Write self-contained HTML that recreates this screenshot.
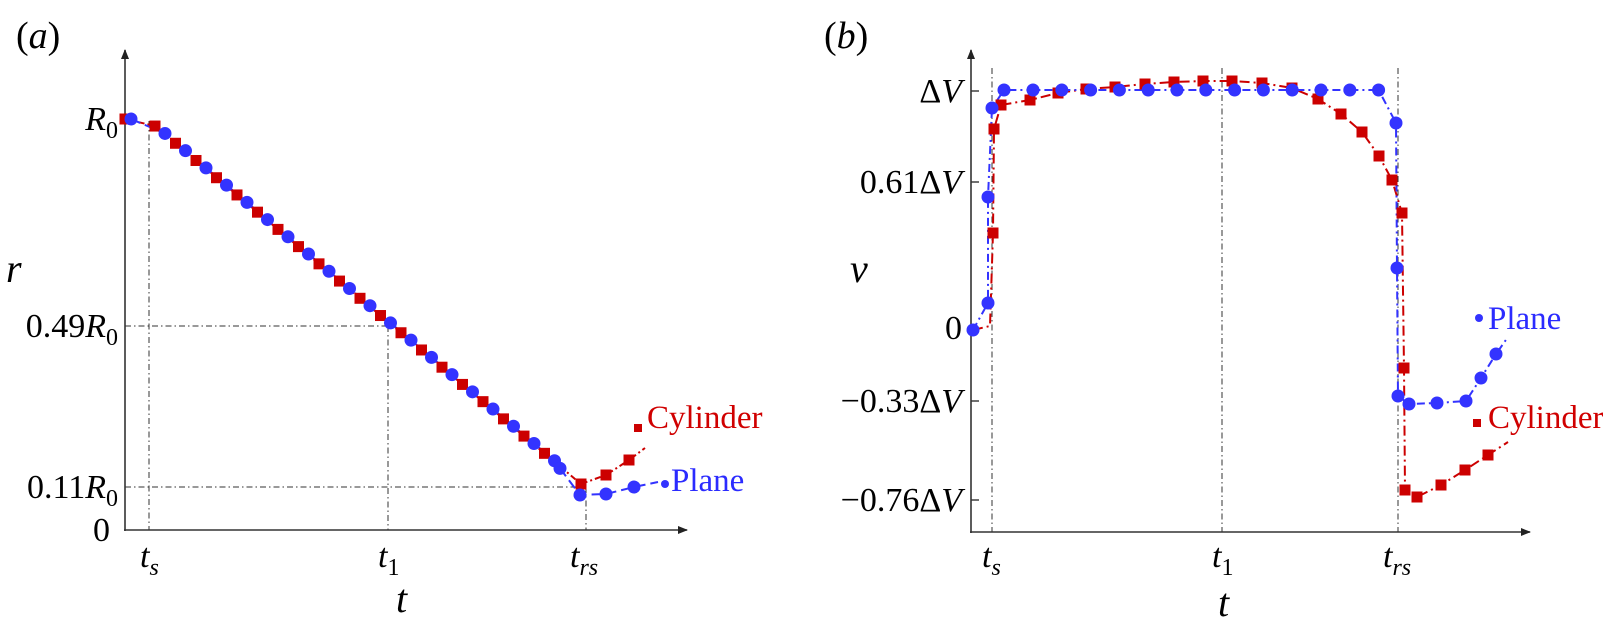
<!DOCTYPE html>
<html><head><meta charset="utf-8"><style>
html,body{margin:0;padding:0;background:#fff;}
svg{display:block;font-family:"Liberation Serif",serif;}
</style></head><body>
<svg id="s" width="1603" height="632" viewBox="0 0 1603 632" xmlns="http://www.w3.org/2000/svg">
<defs>
<marker id="ar" markerWidth="10" markerHeight="8" refX="9" refY="4" orient="auto" markerUnits="userSpaceOnUse"><path d="M0,0 L10,4 L0,8 Z" fill="#222"/></marker>
</defs>
<g font-size="38">
<text x="16" y="48">(<tspan font-style="italic">a</tspan>)</text>
<text x="824" y="48">(<tspan font-style="italic">b</tspan>)</text>
</g>
<g stroke="#333" stroke-width="1.6" fill="none">
<line x1="125" y1="531" x2="125" y2="50" marker-end="url(#ar)"/>
<line x1="124" y1="530" x2="687" y2="530" marker-end="url(#ar)"/>
<line x1="971" y1="533" x2="971" y2="50" marker-end="url(#ar)"/>
<line x1="970" y1="532" x2="1530" y2="532" marker-end="url(#ar)"/>
</g>
<g stroke="#333" stroke-width="1" stroke-dasharray="6,3,1.5,3" fill="none">
<line x1="149" y1="121" x2="149" y2="530"/>
<line x1="388" y1="326" x2="388" y2="530"/>
<line x1="125" y1="326" x2="388" y2="326"/>
<line x1="125" y1="487" x2="586" y2="487"/>
<line x1="586" y1="487" x2="586" y2="530"/>
<line x1="992" y1="68" x2="992" y2="532"/>
<line x1="1222" y1="68" x2="1222" y2="532"/>
<line x1="1398" y1="68" x2="1398" y2="532"/>
</g>
<g stroke="#333" stroke-width="1.4">
<line x1="125" y1="119" x2="133" y2="119"/>
<line x1="971" y1="91" x2="979" y2="91"/>
<line x1="971" y1="182" x2="979" y2="182"/>
<line x1="971" y1="328" x2="979" y2="328"/>
<line x1="971" y1="401" x2="979" y2="401"/>
<line x1="971" y1="500" x2="979" y2="500"/>
</g>
<g font-size="34" text-anchor="end">
<text x="118" y="130" font-style="italic">R<tspan font-size="24" dy="8" font-style="normal">0</tspan></text>
<text x="118" y="337">0.49<tspan font-style="italic">R</tspan><tspan font-size="24" dy="8">0</tspan></text>
<text x="118" y="498">0.11<tspan font-style="italic">R</tspan><tspan font-size="24" dy="8">0</tspan></text>
<text x="110" y="541">0</text>
<text x="962" y="102">Δ<tspan font-style="italic">V</tspan></text>
<text x="962" y="193">0.61Δ<tspan font-style="italic">V</tspan></text>
<text x="962" y="339">0</text>
<text x="962" y="412">−0.33Δ<tspan font-style="italic">V</tspan></text>
<text x="962" y="511">−0.76Δ<tspan font-style="italic">V</tspan></text>
</g>
<g font-size="34" font-style="italic">
<text x="140" y="567">t<tspan font-size="24" dy="8">s</tspan></text>
<text x="378" y="567">t<tspan font-size="24" dy="8" font-style="normal">1</tspan></text>
<text x="570" y="567">t<tspan font-size="24" dy="8">rs</tspan></text>
<text x="982" y="567">t<tspan font-size="24" dy="8">s</tspan></text>
<text x="1212" y="567">t<tspan font-size="24" dy="8" font-style="normal">1</tspan></text>
<text x="1383" y="567">t<tspan font-size="24" dy="8">rs</tspan></text>
<text x="396" y="612" font-size="40">t</text>
<text x="1218" y="616" font-size="40">t</text>
<text x="6" y="282" font-size="40">r</text>
<text x="850" y="282" font-size="40">v</text>
</g>
<g font-size="33">
<text x="647" y="428" fill="#d00000">Cylinder</text>
<text x="671" y="491" fill="#2b2bff">Plane</text>
<text x="1488" y="329" fill="#2b2bff">Plane</text>
<text x="1488" y="428" fill="#d00000">Cylinder</text>
</g>
<g id="data"></g>
</svg>
<script>
var NS="http://www.w3.org/2000/svg",g=document.getElementById("data");
var R="#cc0000",B="#3333ff";
function line(pts,c,dash){var p=document.createElementNS(NS,"polyline");p.setAttribute("points",pts.map(function(a){return a.join(",")}).join(" "));p.setAttribute("fill","none");p.setAttribute("stroke",c);p.setAttribute("stroke-width","2");p.setAttribute("stroke-dasharray",dash);g.appendChild(p);}
function sq(pts,s){pts.forEach(function(a){var r=document.createElementNS(NS,"rect");r.setAttribute("x",a[0]-s/2);r.setAttribute("y",a[1]-s/2);r.setAttribute("width",s);r.setAttribute("height",s);r.setAttribute("fill",R);g.appendChild(r);});}
function ci(pts,rr){pts.forEach(function(a){var c=document.createElementNS(NS,"circle");c.setAttribute("cx",a[0]);c.setAttribute("cy",a[1]);c.setAttribute("r",rr);c.setAttribute("fill",B);g.appendChild(c);});}
var ar=[[125,119]],ab=[[131,119]];
function ya(x){return 121+(x-149)*(484-121)/(581-149);}
for(var x=155;x<565;x+=20.5){ar.push([x,ya(x)]);}
for(var x=165;x<565;x+=20.5){ab.push([x,ya(x)-1]);}
ar.push([581,484],[606,475],[629,460]);
ab.push([560,ya(560)+2],[580,495],[606,494],[634,487]);
line(ar.concat([[645,448]]),R,"6,3,2,3");line(ab.concat([[658,482]]),B,"10,5");
sq(ar,11);ci(ab,6.5);
sq([[638,428]],8);ci([[665,484]],4);
var br=[[993,233],[994,129],[1001,105],[1030,100],[1058,93],[1086,89],[1115,87],[1145,84],[1174,82],[1203,81],[1232,81],[1262,83],[1292,88],[1318,99],[1341,114],[1362,132],[1379,156],[1392,180],[1402,213],[1404,368],[1405,490],[1417,497],[1441,485],[1465,470],[1488,455]];
var bb=[[973,330],[988,303],[988,197],[992,108],[1004,90]];
for(var x=1033;x<1380;x+=28.8){bb.push([x,90]);}
bb.push([1396,123],[1397,268],[1398,396],[1409,404],[1437,403],[1466,401],[1481,378],[1496,354]);
line([[973,330],[990,326],[993,233]].concat(br.slice(1)).concat([[1508,442]]),R,"10,4,2,4");
line(bb.concat([[1508,337]]),B,"8,4,2,4");
sq(br,11);ci(bb,6.5);
sq([[1477,423]],8);ci([[1479,318]],4);
</script>
</body></html>
